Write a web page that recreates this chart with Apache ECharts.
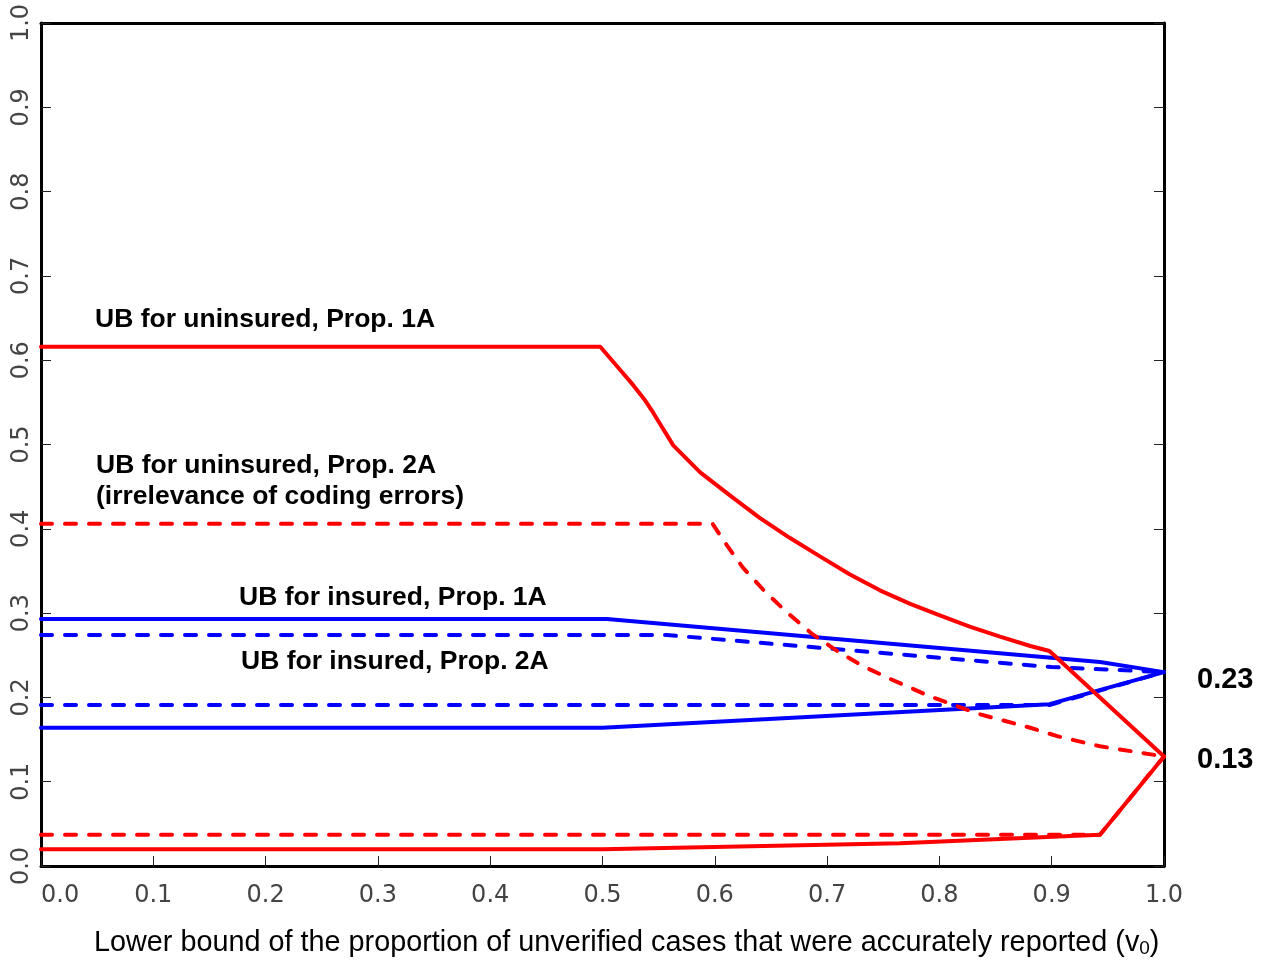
<!DOCTYPE html>
<html>
<head>
<meta charset="utf-8">
<script src="https://cdn.jsdelivr.net/npm/echarts@6/dist/echarts.min.js"></script>
<style>
  html, body { margin: 0; padding: 0; background: #ffffff; }
  #chart { width: 1267px; height: 960px; }
</style>
</head>
<body>
<div id="chart"></div>
<script>
// Axis range and tick step (both axes run 0.0 .. 1.0 in steps of 0.1)
const axisMin = 0;
const axisMax = 1;
const axisStep = 0.1;

// Common end points of the bounds at v0 = 1
const insuredPoint = 0.23;
const uninsuredPoint = 0.13;

// Uninsured (red): upper and lower bounds, Prop. 1A (solid) and Prop. 2A (dashed)
const ubUninsured1A = [
  [0, 0.616], [0.498, 0.616], [0.516, 0.588], [0.527, 0.571], [0.537, 0.554],
  [0.545, 0.538], [0.551, 0.525], [0.557, 0.512], [0.563, 0.499], [0.587, 0.467],
  [0.614, 0.439], [0.640, 0.413], [0.667, 0.389], [0.694, 0.367], [0.720, 0.346],
  [0.747, 0.327], [0.774, 0.311], [0.801, 0.297], [0.827, 0.284], [0.854, 0.272],
  [0.881, 0.261], [0.898, 0.255], [1.0, uninsuredPoint]
];
const lbUninsured1A = [
  [0, 0.020], [0.5, 0.020], [0.765, 0.027], [0.854, 0.032], [0.943, 0.037], [1.0, uninsuredPoint]
];
const ubUninsured2A = [
  [0, 0.406], [0.598, 0.406], [0.611, 0.380], [0.625, 0.354], [0.645, 0.325],
  [0.665, 0.300], [0.687, 0.275], [0.709, 0.255], [0.732, 0.237], [0.756, 0.222],
  [0.792, 0.201], [0.836, 0.180], [0.881, 0.164], [0.905, 0.154], [0.943, 0.142],
  [1.0, uninsuredPoint]
];
const lbUninsured2A = [
  [0, 0.037], [0.943, 0.037], [1.0, uninsuredPoint]
];

// Insured (blue): upper and lower bounds, Prop. 1A (solid) and Prop. 2A (dashed)
const ubInsured1A = [
  [0, 0.293], [0.504, 0.293], [0.943, 0.242], [1.0, insuredPoint]
];
const lbInsured1A = [
  [0, 0.164], [0.500, 0.164], [0.898, 0.192], [1.0, insuredPoint]
];
const ubInsured2A = [
  [0, 0.274], [0.557, 0.274], [0.900, 0.236], [1.0, insuredPoint]
];
const lbInsured2A = [
  [0, 0.191], [0.898, 0.191], [1.0, insuredPoint]
];

const RED = '#ff0000';
const BLUE = '#0000ff';
const DASH = [11, 13];

function lineSeries(name, data, color, dashed) {
  return {
    name: name,
    type: 'line',
    data: data,
    showSymbol: false,
    symbol: 'none',
    silent: true,
    animation: false,
    lineStyle: {
      color: color,
      width: 4,
      type: dashed ? DASH : 'solid',
      cap: 'round',
      join: 'round'
    },
    z: 3
  };
}

const tickFmt = v => v.toFixed(1);
const annotFont = 'bold 26.5px "Liberation Sans", Arial, sans-serif';
const valueFont = 'bold 29px "Liberation Sans", Arial, sans-serif';

const chart = echarts.init(document.getElementById('chart'), null, { renderer: 'canvas' });

const frameLine = { show: true, onZero: false, lineStyle: { color: '#000', width: 3 } };
const innerTick = { show: true, inside: true, length: 10, lineStyle: { color: '#222', width: 1 } };

chart.setOption({
  animation: false,
  backgroundColor: '#ffffff',
  grid: { left: 41, right: 103, top: 23, bottom: 94, containLabel: false },
  xAxis: [
    {
      type: 'value', position: 'bottom',
      min: axisMin, max: axisMax, interval: axisStep,
      axisLine: frameLine,
      axisTick: innerTick,
      splitLine: { show: false },
      axisLabel: {
        show: true, formatter: tickFmt, margin: 18,
        color: '#444', fontSize: 24, fontFamily: 'DejaVu Sans', fontWeight: 'normal',
        showMinLabel: true, showMaxLabel: true, alignMinLabel: 'left'
      }
    },
    {
      type: 'value', position: 'top',
      min: axisMin, max: axisMax, interval: axisStep,
      axisLine: frameLine,
      axisTick: { show: false },
      axisLabel: { show: false },
      splitLine: { show: false }
    }
  ],
  yAxis: [
    {
      type: 'value', position: 'left',
      min: axisMin, max: axisMax, interval: axisStep,
      axisLine: frameLine,
      axisTick: innerTick,
      splitLine: { show: false },
      axisLabel: {
        show: true, formatter: tickFmt, rotate: 90, margin: 7,
        color: '#444', fontSize: 24, fontFamily: 'DejaVu Sans',
        showMinLabel: true, showMaxLabel: true
      }
    },
    {
      type: 'value', position: 'right',
      min: axisMin, max: axisMax, interval: axisStep,
      axisLine: frameLine,
      axisTick: innerTick,
      axisLabel: { show: false },
      splitLine: { show: false }
    }
  ],
  series: [
    lineSeries('LB uninsured, Prop. 2A', lbUninsured2A, RED, true),
    lineSeries('LB uninsured, Prop. 1A', lbUninsured1A, RED, false),
    lineSeries('LB insured, Prop. 2A', lbInsured2A, BLUE, true),
    lineSeries('LB insured, Prop. 1A', lbInsured1A, BLUE, false),
    lineSeries('UB insured, Prop. 2A', ubInsured2A, BLUE, true),
    lineSeries('UB insured, Prop. 1A', ubInsured1A, BLUE, false),
    lineSeries('UB uninsured, Prop. 2A', ubUninsured2A, RED, true),
    lineSeries('UB uninsured, Prop. 1A', ubUninsured1A, RED, false)
  ],
  graphic: [
    { type: 'text', left: 95, top: 306, style: { text: 'UB for uninsured, Prop. 1A', font: annotFont, fill: '#000' } },
    { type: 'text', left: 96, top: 452, style: { text: 'UB for uninsured, Prop. 2A', font: annotFont, fill: '#000' } },
    { type: 'text', left: 96, top: 483, style: { text: '(irrelevance of coding errors)', font: annotFont, fill: '#000' } },
    { type: 'text', left: 239, top: 584, style: { text: 'UB for insured, Prop. 1A', font: annotFont, fill: '#000' } },
    { type: 'text', left: 241, top: 648, style: { text: 'UB for insured, Prop. 2A', font: annotFont, fill: '#000' } },
    { type: 'text', left: 1197, top: 665, style: { text: insuredPoint.toFixed(2), font: valueFont, fill: '#000' } },
    { type: 'text', left: 1197, top: 745, style: { text: uninsuredPoint.toFixed(2), font: valueFont, fill: '#000' } },
    {
      type: 'text', left: 94, top: 929,
      style: {
        text: 'Lower bound of the proportion of unverified cases that were accurately reported (v{sub|0})',
        font: '28.8px "Liberation Sans", Arial, sans-serif',
        fill: '#000',
        rich: {
          sub: { fontSize: 19, fontFamily: 'Liberation Sans', verticalAlign: 'bottom', padding: [11, 0, 0, 0], fill: '#000' }
        }
      }
    }
  ]
});
</script>
</body>
</html>
